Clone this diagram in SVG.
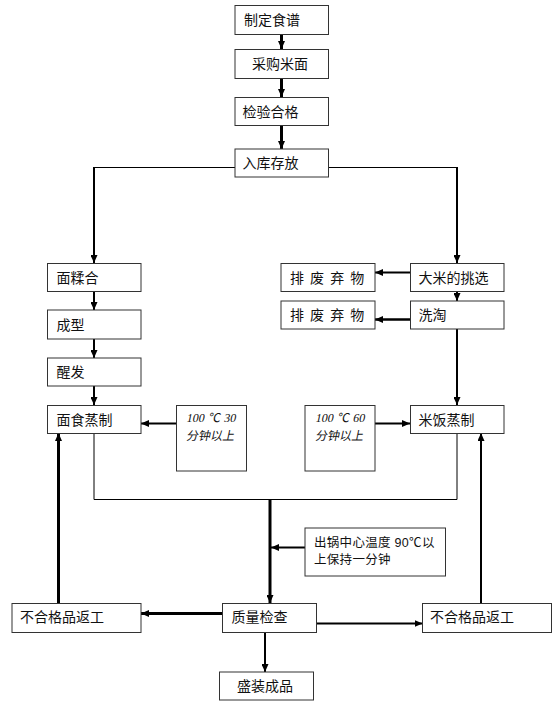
<svg xmlns="http://www.w3.org/2000/svg" width="560" height="710" viewBox="0 0 560 710">
<defs>
<style>
.box{fill:#fff;stroke:#333;stroke-width:1}
.t{font-family:"Liberation Sans","Noto Sans CJK SC",sans-serif;font-size:14px;fill:#111}
.sp{letter-spacing:1.1px}
.it{font-family:"Liberation Serif","Noto Sans CJK SC",serif;font-size:12px;fill:#111}
.sm{font-family:"Liberation Sans","Noto Sans CJK SC",sans-serif;font-size:12.5px;fill:#111;letter-spacing:0.3px}
.c{fill:none;stroke:#000}
.a{marker-end:url(#ah)}
</style>
<marker id="ah" viewBox="0 0 8 7" refX="8" refY="3.5" markerWidth="8" markerHeight="7" markerUnits="userSpaceOnUse" orient="auto"><path d="M0,0 L8,3.5 L0,7 z" fill="#000"/></marker>
</defs>
<rect width="560" height="710" fill="#fff"/>
<g id="connectors">
<line class="c a" x1="281.5" y1="34" x2="281.5" y2="49" stroke-width="3"/>
<line class="c a" x1="281.5" y1="78" x2="281.5" y2="97" stroke-width="3"/>
<line class="c a" x1="281.5" y1="125" x2="281.5" y2="149" stroke-width="3"/>
<line class="c" x1="235" y1="167.5" x2="94" y2="167.5" stroke-width="1"/>
<line class="c a" x1="94" y1="167" x2="94" y2="263" stroke-width="2"/>
<line class="c" x1="328.5" y1="167.5" x2="457" y2="167.5" stroke-width="1"/>
<line class="c a" x1="457" y1="167" x2="457" y2="263" stroke-width="2"/>
<line class="c a" x1="94" y1="291" x2="94" y2="310" stroke-width="2"/>
<line class="c a" x1="94" y1="339" x2="94" y2="358" stroke-width="2"/>
<line class="c a" x1="94" y1="386" x2="94" y2="405" stroke-width="2"/>
<line class="c a" x1="176" y1="423.5" x2="141" y2="423.5" stroke-width="2"/>
<line class="c a" x1="410" y1="272.5" x2="375" y2="272.5" stroke-width="2"/>
<line class="c a" x1="457" y1="291" x2="457" y2="301" stroke-width="2"/>
<line class="c a" x1="410" y1="319.5" x2="375" y2="319.5" stroke-width="2.5"/>
<line class="c a" x1="457" y1="329" x2="457" y2="405" stroke-width="2"/>
<line class="c a" x1="375" y1="423.5" x2="410" y2="423.5" stroke-width="2"/>
<polyline class="c" points="94,433 94,499.5 457,499.5 457,433" stroke-width="1"/>
<line class="c a" x1="270" y1="499" x2="270" y2="603" stroke-width="3"/>
<line class="c a" x1="305" y1="547.5" x2="271" y2="547.5" stroke-width="2"/>
<line class="c a" x1="58.5" y1="603" x2="58.5" y2="433" stroke-width="3"/>
<line class="c a" x1="481" y1="603" x2="481" y2="433" stroke-width="2"/>
<line class="c a" x1="222.5" y1="613.5" x2="141" y2="613.5" stroke-width="3"/>
<line class="c a" x1="316.5" y1="623.5" x2="422.5" y2="623.5" stroke-width="2"/>
<line class="c a" x1="265" y1="632" x2="265" y2="672" stroke-width="2"/>
</g>
<g id="n1"><rect class="box" x="235" y="5.5" width="93.5" height="29"/><text class="t" x="244" y="25">制定食谱</text></g>
<g id="n2"><rect class="box" x="235" y="49.5" width="93.5" height="29"/><text class="t" x="252" y="69">采购米面</text></g>
<g id="n3"><rect class="box" x="235" y="97.5" width="93.5" height="28"/><text class="t" x="242.5" y="116.5">检验合格</text></g>
<g id="n4"><rect class="box" x="235" y="149" width="93.5" height="28"/><text class="t" x="242.5" y="168">入库存放</text></g>
<g id="n5"><rect class="box" x="47.5" y="263.5" width="93.5" height="28"/><text class="t" x="56.5" y="282.5">面糅合</text></g>
<g id="n6"><rect class="box" x="47.5" y="310" width="93.5" height="29"/><text class="t" x="56.5" y="329.5">成型</text></g>
<g id="n7"><rect class="box" x="47.5" y="358" width="93.5" height="28"/><text class="t" x="56.5" y="377">醒发</text></g>
<g id="n8"><rect class="box" x="47.5" y="405.5" width="93.5" height="28"/><text class="t" x="56.5" y="424.5">面食蒸制</text></g>
<g id="n9"><rect class="box" x="176.5" y="405.5" width="70" height="65.5"/><text class="it" transform="translate(186,422) skewX(-12)" x="0" y="0">100<tspan x="22">℃</tspan><tspan x="37.5">30</tspan></text><text class="it" transform="translate(186,440) skewX(-12)" x="0" y="0">分钟以上</text></g>
<g id="n10"><rect class="box" x="281" y="263.5" width="94" height="28"/><text class="t sp" x="290" y="282.5">排 废 弃 物</text></g>
<g id="n11"><rect class="box" x="410.5" y="263.5" width="93.5" height="28"/><text class="t" x="418.5" y="282.5">大米的挑选</text></g>
<g id="n12"><rect class="box" x="281" y="301" width="94" height="28"/><text class="t sp" x="290" y="320">排 废 弃 物</text></g>
<g id="n13"><rect class="box" x="410.5" y="301" width="93.5" height="28"/><text class="t" x="418.5" y="320">洗淘</text></g>
<g id="n14"><rect class="box" x="305" y="405.5" width="70" height="65.5"/><text class="it" transform="translate(315,422) skewX(-12)" x="0" y="0">100<tspan x="22">℃</tspan><tspan x="37.5">60</tspan></text><text class="it" transform="translate(315,440) skewX(-12)" x="0" y="0">分钟以上</text></g>
<g id="n15"><rect class="box" x="410.5" y="405.5" width="93.5" height="28"/><text class="t" x="418.5" y="424.5">米饭蒸制</text></g>
<g id="n16"><rect class="box" x="305" y="528" width="140.5" height="48"/><text class="sm" x="314" y="546.5">出锅中心温度 90℃以</text><text class="sm" x="314" y="564">上保持一分钟</text></g>
<g id="n17"><rect class="box" x="12" y="603.5" width="129" height="29"/><text class="t" x="20" y="622">不合格品返工</text></g>
<g id="n18"><rect class="box" x="222.5" y="603.5" width="94" height="29"/><text class="t" x="231.5" y="622">质量检查</text></g>
<g id="n19"><rect class="box" x="422.5" y="603.5" width="129" height="29"/><text class="t" x="430" y="622">不合格品返工</text></g>
<g id="n20"><rect class="box" x="219.5" y="672" width="94" height="28"/><text class="t" x="237" y="691">盛装成品</text></g>
</svg>
